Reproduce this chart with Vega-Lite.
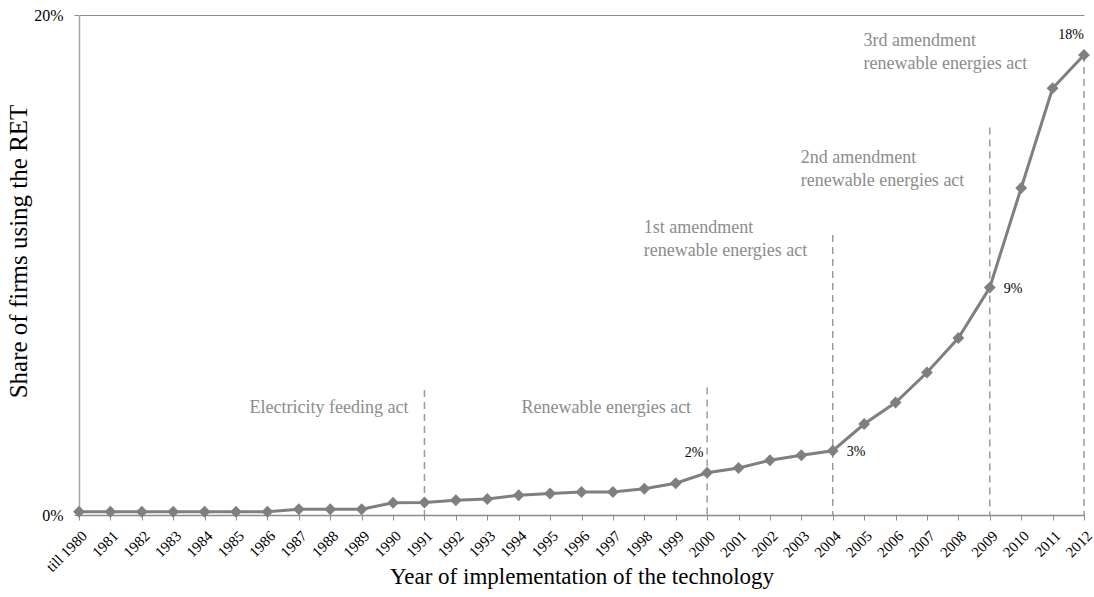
{
  "$schema": "https://vega.github.io/schema/vega-lite/v6.json",
  "autosize": "none",
  "width": 1005,
  "height": 500,
  "padding": {"left": 79, "top": 15, "right": 10, "bottom": 82},
  "background": "white",
  "config": {
    "view": {"stroke": null},
    "font": "Liberation Serif",
    "text": {"font": "Liberation Serif"},
    "axis": {"labelFont": "Liberation Serif", "titleFont": "Liberation Serif"}
  },
  "datasets": {
    "main": [
      {"year": "till 1980", "share": 0.13},
      {"year": "1981", "share": 0.13},
      {"year": "1982", "share": 0.13},
      {"year": "1983", "share": 0.13},
      {"year": "1984", "share": 0.13},
      {"year": "1985", "share": 0.13},
      {"year": "1986", "share": 0.13},
      {"year": "1987", "share": 0.23},
      {"year": "1988", "share": 0.23},
      {"year": "1989", "share": 0.23},
      {"year": "1990", "share": 0.49},
      {"year": "1991", "share": 0.5},
      {"year": "1992", "share": 0.59},
      {"year": "1993", "share": 0.64},
      {"year": "1994", "share": 0.79},
      {"year": "1995", "share": 0.86},
      {"year": "1996", "share": 0.92},
      {"year": "1997", "share": 0.92},
      {"year": "1998", "share": 1.05},
      {"year": "1999", "share": 1.27},
      {"year": "2000", "share": 1.69, "label": "2%", "lpos": "above"},
      {"year": "2001", "share": 1.88},
      {"year": "2002", "share": 2.19},
      {"year": "2003", "share": 2.39},
      {"year": "2004", "share": 2.57, "label": "3%", "lpos": "right"},
      {"year": "2005", "share": 3.64},
      {"year": "2006", "share": 4.5},
      {"year": "2007", "share": 5.7},
      {"year": "2008", "share": 7.08},
      {"year": "2009", "share": 9.1, "label": "9%", "lpos": "right"},
      {"year": "2010", "share": 13.08},
      {"year": "2011", "share": 17.07},
      {"year": "2012", "share": 18.4, "label": "18%", "lpos": "above"}
    ],
    "rules": [
      {"year": "1991", "top": 5.0, "base": 0},
      {"year": "2000", "top": 5.1, "base": 0},
      {"year": "2004", "top": 11.2, "base": 0},
      {"year": "2009", "top": 15.5, "base": 0},
      {"year": "2012", "top": 18.4, "base": 0}
    ],
    "single": [
      {"year": "1991", "y": 4.08, "text": "Electricity feeding act"},
      {"year": "2000", "y": 4.08, "text": "Renewable energies act"}
    ],
    "multi": [
      {"year": "2004", "y": 11.28, "text": ["1st amendment", "renewable energies act"]},
      {"year": "2009", "y": 14.08, "text": ["2nd amendment", "renewable energies act"]},
      {"year": "2011", "y": 18.76, "text": ["3rd amendment", "renewable energies act"]}
    ]
  },
  "layer": [
    {
      "data": {"name": "rules"},
      "mark": {"type": "rule", "color": "#9a9a9a", "strokeWidth": 1.5, "strokeDash": [7, 5]},
      "encoding": {
        "x": {
          "field": "year",
          "type": "ordinal",
          "scale": {"type": "point", "padding": 0, "domain": ["till 1980","1981","1982","1983","1984","1985","1986","1987","1988","1989","1990","1991","1992","1993","1994","1995","1996","1997","1998","1999","2000","2001","2002","2003","2004","2005","2006","2007","2008","2009","2010","2011","2012"]},
          "axis": {
            "title": "Year of implementation of the technology",
            "titleFont": "Liberation Serif",
            "titleFontSize": 23,
            "titleFontWeight": "normal",
            "titleColor": "#000000",
            "titleY": 50,
            "labelAngle": -45,
            "labelFont": "Liberation Serif",
            "labelFontSize": 15,
            "labelColor": "#000000",
            "labelPadding": 8,
            "tickColor": "#8c8c8c",
            "tickSize": 5,
            "domainColor": "#8c8c8c",
            "domainWidth": 1.5,
            "grid": false
          }
        },
        "y": {
          "field": "top",
          "type": "quantitative",
          "scale": {"domain": [0, 20], "nice": false},
          "axis": {
            "title": "Share of firms using the RET",
            "titleFont": "Liberation Serif",
            "titleFontSize": 25,
            "titleFontWeight": "normal",
            "titleColor": "#000000",
            "titlePadding": 2,
            "titleY": 236,
            "values": [0, 20],
            "labelExpr": "datum.value + '%'",
            "labelFont": "Liberation Serif",
            "labelFontSize": 16,
            "labelColor": "#000000",
            "labelPadding": 11,
            "tickColor": "#8c8c8c",
            "tickSize": 5,
            "domainColor": "#a6a6a6",
            "domainWidth": 1.5,
            "grid": true,
            "gridColor": "#8c8c8c",
            "gridWidth": 1
          }
        },
        "y2": {"field": "base"}
      }
    },
    {
      "data": {"name": "main"},
      "mark": {"type": "line", "color": "#7f7f7f", "strokeWidth": 3},
      "encoding": {
        "x": {"field": "year", "type": "ordinal"},
        "y": {"field": "share", "type": "quantitative"}
      }
    },
    {
      "data": {"name": "main"},
      "mark": {"type": "point", "shape": "diamond", "filled": true, "color": "#7f7f7f", "size": 140, "opacity": 1},
      "encoding": {
        "x": {"field": "year", "type": "ordinal"},
        "y": {"field": "share", "type": "quantitative"}
      }
    },
    {
      "data": {"name": "main"},
      "transform": [{"filter": "datum.lpos == 'above'"}],
      "mark": {"type": "text", "font": "Liberation Serif", "align": "center", "baseline": "alphabetic", "dx": -13, "dy": -16, "fontSize": 14, "color": "#000000"},
      "encoding": {
        "x": {"field": "year", "type": "ordinal"},
        "y": {"field": "share", "type": "quantitative"},
        "text": {"field": "label"}
      }
    },
    {
      "data": {"name": "main"},
      "transform": [{"filter": "datum.lpos == 'right'"}],
      "mark": {"type": "text", "font": "Liberation Serif", "align": "left", "baseline": "alphabetic", "dx": 14, "dy": 5, "fontSize": 14, "color": "#000000"},
      "encoding": {
        "x": {"field": "year", "type": "ordinal"},
        "y": {"field": "share", "type": "quantitative"},
        "text": {"field": "label"}
      }
    },
    {
      "data": {"name": "single"},
      "mark": {"type": "text", "font": "Liberation Serif", "align": "right", "baseline": "alphabetic", "dx": -16, "fontSize": 18, "color": "#8c8c8c"},
      "encoding": {
        "x": {"field": "year", "type": "ordinal"},
        "y": {"field": "y", "type": "quantitative"},
        "text": {"field": "text"}
      }
    },
    {
      "data": {"name": "multi"},
      "mark": {"type": "text", "font": "Liberation Serif", "align": "left", "baseline": "alphabetic", "dx": -189, "fontSize": 18, "lineHeight": 23, "color": "#8c8c8c"},
      "encoding": {
        "x": {"field": "year", "type": "ordinal"},
        "y": {"field": "y", "type": "quantitative"},
        "text": {"field": "text"}
      }
    }
  ]
}
